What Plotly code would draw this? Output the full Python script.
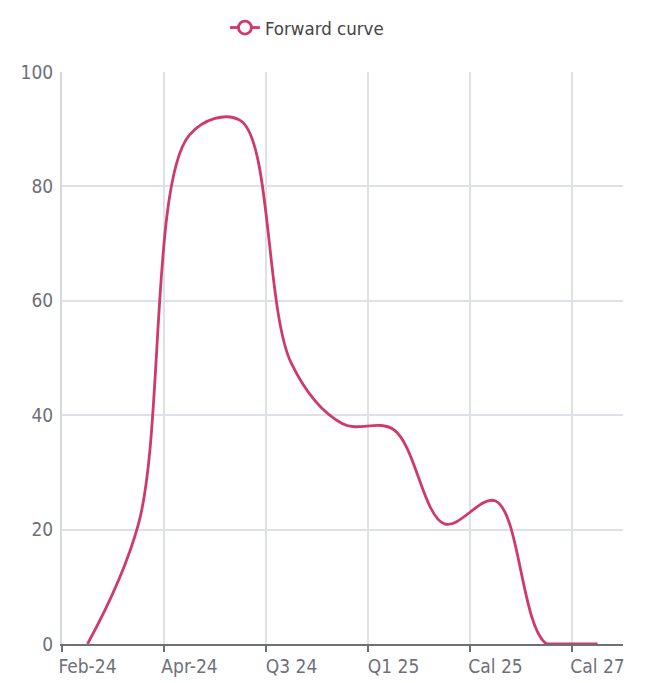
import plotly.graph_objects as go

# Forward curve contract periods and prices
periods = ["Feb-24", "Mar-24", "Apr-24", "May-24", "Q3 24", "Q4 24",
           "Q1 25", "Q2 25", "Cal 25", "Cal 26", "Cal 27"]
prices = [0, 21, 89, 91.5, 49, 38.5, 37.5, 21, 25, 0, 0]

# labelled ticks on every other period
label_idx = list(range(0, len(periods), 2))
label_text = [periods[i] for i in label_idx]

LINE = "#cf3a6c"
GRID = "#dfe1e8"
AXIS_TXT = "#6e7079"
FONT = "Liberation Sans Narrow, DejaVu Sans Condensed, Arial Narrow, sans-serif"

x = list(range(len(periods)))
last = len(periods) - 2  # index where the curve settles flat

fig = go.Figure()
# smoothed curve, clipped to the plotting area
fig.add_trace(go.Scatter(
    x=x, y=prices, mode="lines", name="Forward curve",
    line=dict(color=LINE, width=2.8, shape="spline", smoothing=1.0),
    showlegend=False, cliponaxis=True,
))
# flat tail on the zero line
fig.add_trace(go.Scatter(
    x=x[last:], y=prices[last:], mode="lines", name="Forward curve",
    line=dict(color=LINE, width=2.8),
    showlegend=False, cliponaxis=False,
))
# legend entry with a hollow circle symbol
fig.add_trace(go.Scatter(
    x=[None], y=[None], mode="lines+markers", name="Forward curve",
    line=dict(color=LINE, width=2.8),
    marker=dict(symbol="circle", size=13, color="white",
                line=dict(color=LINE, width=2.8)),
))

fig.update_layout(
    width=652, height=683,
    margin=dict(l=62, r=29, t=72, b=39),
    plot_bgcolor="white", paper_bgcolor="white",
    font=dict(family=FONT, color=AXIS_TXT, size=19),
    showlegend=True,
    legend=dict(orientation="h", x=0.345, xanchor="left",
                xref="container", y=1 - 28 / 683, yanchor="middle",
                yref="container",
                font=dict(size=18.5, color="#444"), itemwidth=30),
)
fig.update_xaxes(
    range=[-0.5, len(periods) - 0.5], automargin=False,
    tickmode="array", tickvals=label_idx, ticktext=label_text,
    showgrid=False, ticks="",
    showline=True, linecolor="#6e7079", linewidth=2,
    zeroline=False, ticklabelstandoff=4,
    minor=dict(tickmode="array",
               tickvals=[i - 0.5 for i in label_idx[1:]] + [-0.5],
               showgrid=True, gridcolor=GRID, gridwidth=2,
               ticks="outside", ticklen=6, tickcolor="#6e7079",
               tickwidth=1.5),
)
fig.update_yaxes(
    range=[0, 100], dtick=20, automargin=False,
    showgrid=True, gridcolor=GRID, gridwidth=2,
    showline=True, linecolor="#d6d8df", linewidth=2,
    zeroline=False, ticks="", ticklabelstandoff=3,
)

fig.write_html("out.html")
